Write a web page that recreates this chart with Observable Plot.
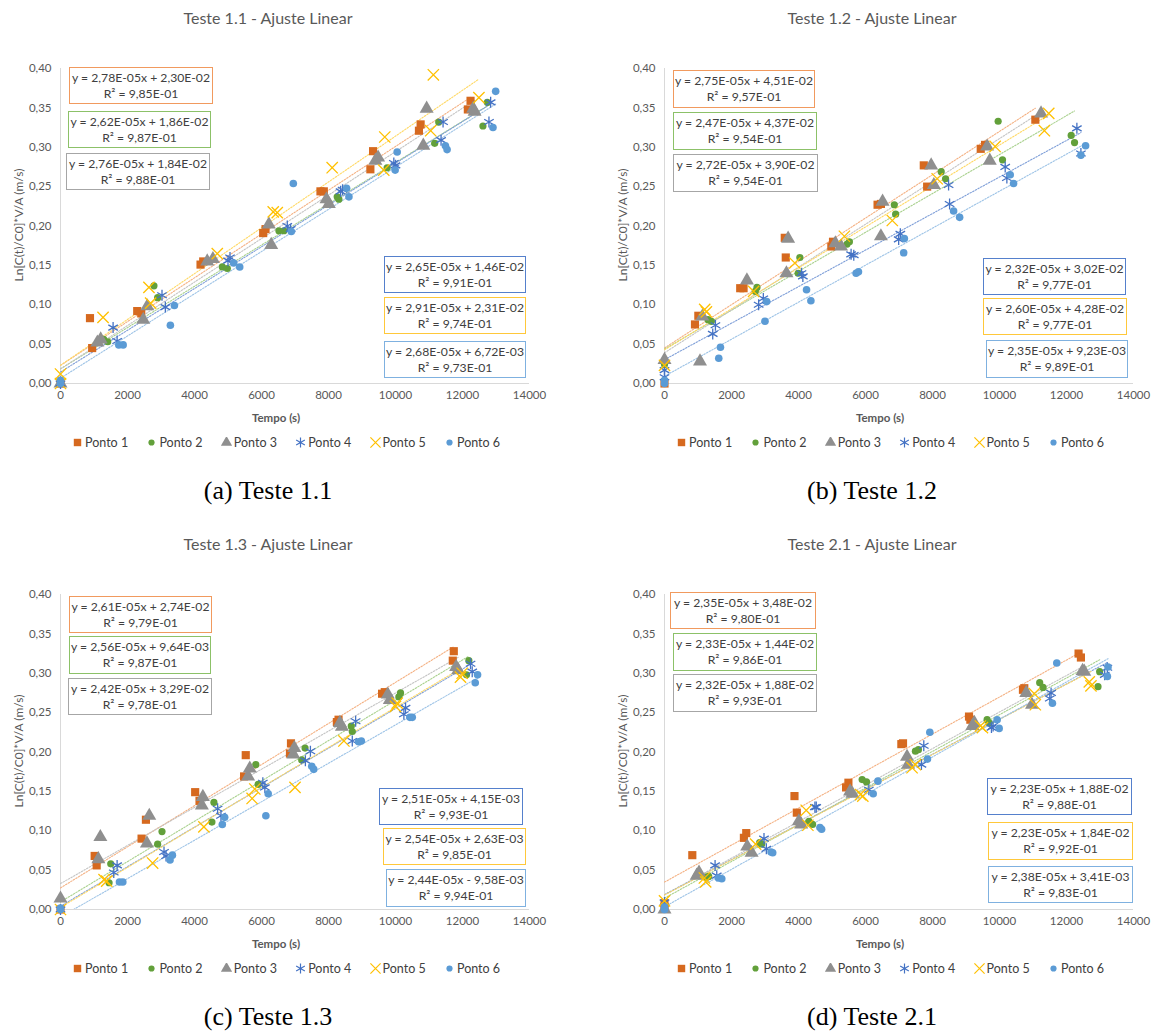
<!DOCTYPE html>
<html><head><meta charset="utf-8">
<script src="https://cdn.jsdelivr.net/npm/d3@7"></script>
<script src="https://cdn.jsdelivr.net/npm/@observablehq/plot@0.6"></script>
<style>
body{margin:0;background:#fff;}
#root{position:relative;width:1155px;height:1035px;font-family:Lato,"Open Sans",sans-serif;overflow:hidden;}
.abs{position:absolute;}
.title{font-size:16px;color:#595959;text-align:center;width:300px;white-space:nowrap;}
.ylab{font-size:12px;color:#595959;white-space:nowrap;width:240px;text-align:center;transform:rotate(-90deg);line-height:16px;}
.xlab{font-size:11.5px;color:#595959;font-weight:bold;width:120px;text-align:center;}
.box{position:absolute;background:#fff;box-sizing:border-box;border:1.4px solid;font-size:12.2px;color:#404040;text-align:center;display:flex;flex-direction:column;justify-content:center;line-height:16px;white-space:nowrap;}
.caption{font-family:"Liberation Serif","Times New Roman",serif;font-size:26px;color:#000;text-align:center;width:300px;}
.legend{display:flex;font-size:12.5px;color:#404040;align-items:center;}
.legend .item{width:74.4px;display:flex;align-items:center;white-space:nowrap;}
.legend svg{margin-right:2px;}
</style>
</head><body><div id="root"></div>
<script>
// ---------- Data (time s, Ln[C(t)/C0]*V/A m/s) ----------
const seriesNames = ["Ponto 1","Ponto 2","Ponto 3","Ponto 4","Ponto 5","Ponto 6"];
const titles = ["Teste 1.1 - Ajuste Linear","Teste 1.2 - Ajuste Linear","Teste 1.3 - Ajuste Linear","Teste 2.1 - Ajuste Linear"];
const captions = ["(a) Teste 1.1","(b) Teste 1.2","(c) Teste 1.3","(d) Teste 2.1"];
const xTicks = [0,2000,4000,6000,8000,10000,12000,14000];
const yTicks = [0,0.05,0.10,0.15,0.20,0.25,0.30,0.35,0.40];

// Teste 1.1
const t11_p1 = [[0,0],[880,0.083],[945,0.045],[2290,0.092],[2410,0.089],[4180,0.151],[4260,0.155],[6050,0.191],[6120,0.196],[7760,0.244],[7860,0.244],[9250,0.272],[9330,0.295],[10700,0.321],[10750,0.329],[12160,0.348],[12240,0.359]];
const t11_p2 = [[0,0],[1290,0.056],[1410,0.053],[2790,0.124],[2900,0.109],[4830,0.148],[4980,0.146],[6520,0.194],[6670,0.194],[8260,0.237],[8310,0.234],[9750,0.274],[11170,0.305],[11290,0.332],[12610,0.327],[12740,0.357]];
const t11_p3 = [[0,0],[1100,0.052],[1200,0.056],[2470,0.081],[2590,0.098],[4380,0.155],[4550,0.158],[6220,0.202],[6290,0.176],[7940,0.234],[8010,0.228],[9400,0.283],[9480,0.287],[10830,0.302],[10930,0.349],[12320,0.349],[12360,0.345]];
const t11_p4 = [[0,0],[1570,0.071],[1690,0.054],[3030,0.112],[3130,0.097],[5000,0.156],[5060,0.160],[6770,0.200],[6870,0.196],[8360,0.244],[8420,0.246],[9950,0.280],[10000,0.277],[11360,0.309],[11420,0.332],[12790,0.332],[12840,0.357]];
const t11_p5 = [[0,0],[0,0.012],[1270,0.084],[2640,0.122],[2690,0.102],[4680,0.165],[6350,0.218],[6470,0.217],[8110,0.274],[9650,0.271],[9680,0.313],[11050,0.321],[11130,0.392],[12490,0.363]];
const t11_p6 = [[0,0],[0,0.004],[1740,0.049],[1870,0.049],[3280,0.074],[3400,0.099],[5170,0.153],[5350,0.148],[6890,0.193],[6950,0.254],[8540,0.248],[8610,0.237],[9990,0.271],[10050,0.294],[11490,0.302],[11540,0.297],[12910,0.325],[12990,0.371]];
const t11_slope = [2.78e-5,2.62e-5,2.76e-5,2.65e-5,2.91e-5,2.68e-5];
const t11_icpt = [2.30e-2,1.86e-2,1.84e-2,1.46e-2,2.31e-2,6.72e-3];
const t11_r2 = [9.85e-1,9.87e-1,9.88e-1,9.91e-1,9.74e-1,9.73e-1];

// Teste 1.2
const t12_p1 = [[0,0],[910,0.075],[1010,0.086],[2260,0.121],[2360,0.121],[3590,0.185],[3620,0.160],[4980,0.174],[5030,0.180],[6360,0.227],[6460,0.228],[7740,0.277],[7840,0.250],[9440,0.298],[9570,0.303],[11070,0.335]];
const t12_p2 = [[0,0.024],[1300,0.081],[1400,0.079],[2710,0.117],[2760,0.122],[3990,0.140],[4040,0.160],[5450,0.177],[5520,0.180],[6860,0.227],[6900,0.215],[8260,0.269],[8390,0.260],[9960,0.333],[10090,0.284],[12140,0.315],[12240,0.306]];
const t12_p3 = [[0,0.030],[1060,0.028],[1130,0.085],[2460,0.131],[3640,0.140],[3690,0.184],[5100,0.178],[5270,0.174],[6460,0.187],[6510,0.231],[7960,0.277],[8040,0.252],[9630,0.301],[9710,0.283],[11240,0.343]];
const t12_p4 = [[0,0.008],[0,0.017],[1440,0.063],[1520,0.074],[2810,0.100],[2950,0.108],[4090,0.140],[4130,0.136],[5570,0.164],[5650,0.163],[6990,0.183],[7040,0.190],[8480,0.252],[8510,0.228],[10170,0.275],[10220,0.261],[12310,0.324],[12430,0.292]];
const t12_p5 = [[0,0.023],[1200,0.094],[1250,0.091],[2660,0.117],[3890,0.153],[5370,0.187],[6800,0.207],[8140,0.260],[9870,0.301],[11340,0.321],[11470,0.343]];
const t12_p6 = [[0,0],[0,0.004],[1620,0.032],[1670,0.046],[3000,0.079],[3050,0.104],[4240,0.119],[4370,0.105],[5720,0.140],[5790,0.142],[7140,0.166],[7160,0.184],[8630,0.219],[8810,0.211],[10320,0.265],[10420,0.254],[12430,0.290],[12570,0.302]];
const t12_slope = [2.75e-5,2.47e-5,2.72e-5,2.32e-5,2.60e-5,2.35e-5];
const t12_icpt = [4.51e-2,4.37e-2,3.90e-2,3.02e-2,4.28e-2,9.23e-3];
const t12_r2 = [9.57e-1,9.54e-1,9.54e-1,9.77e-1,9.77e-1,9.89e-1];

// Teste 1.3
const t13_p1 = [[0,0],[1020,0.068],[1080,0.056],[2420,0.090],[2550,0.114],[4020,0.149],[4150,0.138],[5480,0.169],[5530,0.196],[6850,0.198],[6880,0.211],[8250,0.238],[8300,0.241],[9600,0.274],[9680,0.276],[11710,0.316],[11740,0.328]];
const t13_p2 = [[0,0],[1450,0.034],[1500,0.058],[2900,0.083],[3030,0.099],[4520,0.111],[4580,0.136],[5830,0.184],[5900,0.159],[7200,0.190],[7300,0.205],[8680,0.233],[8710,0.226],[10100,0.270],[10150,0.275],[12120,0.298],[12190,0.316]];
const t13_p3 = [[0,0.014],[1130,0.064],[1190,0.092],[2580,0.084],[2650,0.119],[4220,0.132],[4250,0.143],[5600,0.169],[5650,0.179],[6950,0.197],[6980,0.205],[8340,0.237],[8400,0.232],[9770,0.273],[9830,0.266],[11810,0.308],[11870,0.304]];
const t13_p4 = [[0,0],[1590,0.047],[1690,0.056],[3090,0.073],[3150,0.068],[4690,0.128],[4790,0.119],[6040,0.161],[6100,0.155],[7310,0.189],[7460,0.201],[8710,0.214],[8810,0.239],[10250,0.248],[10300,0.256],[12240,0.312],[12290,0.302]];
const t13_p5 = [[0,0],[1300,0.038],[1380,0.036],[2750,0.059],[4280,0.105],[5720,0.141],[5800,0.153],[7000,0.155],[8460,0.214],[10000,0.258],[10050,0.262],[11940,0.295],[11990,0.300]];
const t13_p6 = [[0,0],[0,0.002],[1760,0.035],[1860,0.035],[3270,0.063],[3340,0.069],[4830,0.108],[4900,0.117],[6130,0.119],[6200,0.147],[7500,0.182],[7560,0.178],[8900,0.213],[8980,0.214],[10430,0.244],[10500,0.244],[12380,0.288],[12450,0.298]];
const t13_slope = [2.61e-5,2.56e-5,2.42e-5,2.51e-5,2.54e-5,2.44e-5];
const t13_icpt = [2.74e-2,9.64e-3,3.29e-2,4.15e-3,2.63e-3,-9.58e-3];
const t13_r2 = [9.79e-1,9.87e-1,9.78e-1,9.93e-1,9.85e-1,9.94e-1];

// Teste 2.1
const t21_p1 = [[0,0.003],[0,0.008],[830,0.069],[2370,0.091],[2440,0.097],[3880,0.144],[3950,0.123],[5420,0.155],[5490,0.161],[7070,0.210],[7120,0.211],[9090,0.245],[9130,0.241],[10700,0.279],[10740,0.281],[12360,0.325],[12430,0.320]];
const t21_p2 = [[0,0],[1260,0.041],[1320,0.042],[2840,0.085],[2900,0.083],[4310,0.112],[4420,0.108],[5900,0.165],[6030,0.162],[7490,0.201],[7580,0.203],[9630,0.241],[9690,0.237],[11200,0.288],[11300,0.282],[12940,0.283],[12990,0.302]];
const t21_p3 = [[0,0],[960,0.043],[1030,0.047],[2470,0.080],[2600,0.072],[4010,0.112],[4080,0.108],[5540,0.150],[5610,0.147],[7240,0.194],[7270,0.184],[9190,0.233],[9250,0.237],[10800,0.275],[10970,0.260],[12480,0.303],[12530,0.302]];
const t21_p4 = [[0,0.009],[1510,0.056],[1560,0.043],[2970,0.090],[3040,0.077],[4490,0.130],[4530,0.130],[6100,0.152],[7670,0.184],[7740,0.208],[9760,0.231],[9810,0.233],[11500,0.268],[11540,0.275],[13140,0.298],[13220,0.307]];
const t21_p5 = [[0,0.011],[1190,0.040],[1230,0.035],[2720,0.083],[4230,0.126],[4280,0.107],[5850,0.146],[5920,0.144],[7390,0.180],[7490,0.184],[9430,0.233],[9490,0.231],[11040,0.274],[11070,0.260],[12680,0.289],[12730,0.284]];
const t21_p6 = [[0,0],[0,0.003],[1610,0.040],[1710,0.039],[3180,0.073],[3230,0.072],[4640,0.104],[4690,0.102],[6230,0.147],[6370,0.163],[7850,0.191],[7920,0.225],[9930,0.241],[9990,0.230],[11580,0.262],[11710,0.313],[13220,0.296],[13240,0.308]];
const t21_slope = [2.35e-5,2.33e-5,2.32e-5,2.23e-5,2.23e-5,2.38e-5];
const t21_icpt = [3.48e-2,1.44e-2,1.88e-2,1.88e-2,1.84e-2,3.41e-3];
const t21_r2 = [9.80e-1,9.86e-1,9.93e-1,9.88e-1,9.92e-1,9.83e-1];

// ---------- Styles ----------
const markerColor = ["#D6691F","#62A03A","#8F8F8F","#4472C4","#FFC000","#5B9BD5"];
const lineColor = ["#F4B183","#A9D18E","#C4C4C4","#7F9FD8","#FFD966","#9DC3E6"];
const boxColor = ["#F19A5E","#8CC168","#A6A6A6","#5580CC","#FFC83A","#7FB1E0"];
const symbols = ["square","circle","triangle","asterisk","times","circle"];
const d3sym = [d3.symbolSquare,d3.symbolCircle,d3.symbolTriangle,d3.symbolAsterisk,d3.symbolTimes,d3.symbolCircle];
const radius = [4.6,3.6,5.2,5.2,5.2,3.8];
const filled = [true,true,true,false,false,true];

const panels = [
  {series:[t11_p1,t11_p2,t11_p3,t11_p4,t11_p5,t11_p6], slope:t11_slope, icpt:t11_icpt, r2:t11_r2, dx:0, dy:0,
   boxes:[[69,67,144,37],[68,111,143,37],[66,153,144,37],[384,256,142,37],[384,297,142,37],[384,341,142,37]]},
  {series:[t12_p1,t12_p2,t12_p3,t12_p4,t12_p5,t12_p6], slope:t12_slope, icpt:t12_icpt, r2:t12_r2, dx:604, dy:0,
   boxes:[[673,70,142,38],[673,112,144,38],[673,154,145,38],[983,258,143,37],[983,298,144,37],[986,340,142,38]]},
  {series:[t13_p1,t13_p2,t13_p3,t13_p4,t13_p5,t13_p6], slope:t13_slope, icpt:t13_icpt, r2:t13_r2, dx:0, dy:526,
   boxes:[[69,596,143,37],[69,636,142,38],[68,678,144,37],[379,788,144,37],[383,828,143,37],[386,869,140,38]]},
  {series:[t21_p1,t21_p2,t21_p3,t21_p4,t21_p5,t21_p6], slope:t21_slope, icpt:t21_icpt, r2:t21_r2, dx:604, dy:526,
   boxes:[[670,592,146,37],[673,633,144,38],[673,674,144,38],[987,778,145,37],[988,822,145,38],[988,866,145,37]]}
];

function sci(v){
  const s = Math.abs(v).toExponential(2);
  const [m,e] = s.split("e");
  const ei = parseInt(e);
  return m.replace(".",",") + "E" + (ei<0?"-":"+") + String(Math.abs(ei)).padStart(2,"0");
}

const root = document.getElementById("root");
function addDiv(cls, text, left, top, extra){
  const d = document.createElement("div");
  d.className = "abs " + cls;
  d.textContent = text;
  d.style.left = left + "px"; d.style.top = top + "px";
  if (extra) Object.assign(d.style, extra);
  root.appendChild(d);
  return d;
}

panels.forEach((p, pi) => {
  const {dx, dy} = p;
  addDiv("title", titles[pi], dx + 268 - 150, dy + 8);
  // trendlines from the fitted equations over each series' time range
  const lines = p.series.map((s, i) => {
    const x0 = d3.min(s, d => d[0]), x1 = d3.max(s, d => d[0]);
    return [x0, x1].map(x => ({x, y: p.slope[i] * x + p.icpt[i], k: i}));
  });
  const marks = [
    Plot.ruleY([0], {stroke: "#D9D9D9", strokeWidth: 1}),
    Plot.ruleX([0], {stroke: "#D9D9D9", strokeWidth: 1}),
    ...lines.map((l, i) => Plot.line(l, {x: "x", y: "y", stroke: lineColor[i], strokeWidth: 1.1, strokeDasharray: "1.5,1.5", clip: true})),
    ...p.series.map((s, i) => Plot.dot(s, {
      x: d => d[0], y: d => d[1], symbol: symbols[i], r: radius[i],
      fill: filled[i] ? markerColor[i] : "none",
      stroke: filled[i] ? "none" : markerColor[i],
      strokeWidth: filled[i] ? 0 : 1.3
    })),
    Plot.axisX({ticks: xTicks, tickSize: 0, tickPadding: 7, label: null, tickFormat: d => String(d)}),
    Plot.axisY({ticks: yTicks, tickSize: 0, tickPadding: 9, label: null, tickFormat: d => d.toFixed(2).replace(".", ",")})
  ];
  const chart = Plot.plot({
    width: 577, height: 375,
    marginLeft: 60, marginRight: 48, marginTop: 13, marginBottom: 47,
    x: {domain: [0, 14000]},
    y: {domain: [0, 0.40]},
    style: {fontFamily: "Lato, 'Open Sans', sans-serif", fontSize: "11.5px", color: "#595959", background: "transparent", overflow: "visible"},
    marks
  });
  chart.style.maxWidth = "none";
  const holder = document.createElement("div");
  holder.className = "abs";
  holder.style.left = dx + "px"; holder.style.top = (dy + 55) + "px";
  holder.style.width = "577px"; holder.style.height = "375px";
  holder.appendChild(chart);
  root.appendChild(holder);

  addDiv("ylab", "Ln[C(t)/C0]*V/A  (m/s)", dx + 19 - 120, dy + 225 - 8);
  addDiv("xlab", "Tempo  (s)", dx + 276 - 60, dy + 411);

  p.boxes.forEach((b, i) => {
    const d = document.createElement("div");
    d.className = "box";
    d.style.left = b[0] + "px"; d.style.top = b[1] + "px";
    d.style.width = b[2] + "px"; d.style.height = b[3] + "px";
    d.style.borderColor = boxColor[i];
    const eq = "y = " + sci(p.slope[i]) + "x " + (p.icpt[i] < 0 ? "- " : "+ ") + sci(p.icpt[i]);
    const l1 = document.createElement("div"); l1.textContent = eq;
    const l2 = document.createElement("div"); l2.textContent = "R² = " + sci(p.r2[i]);
    d.appendChild(l1); d.appendChild(l2);
    root.appendChild(d);
  });

  const lg = document.createElement("div");
  lg.className = "abs legend";
  lg.style.left = (dx + 72) + "px"; lg.style.top = (dy + 435) + "px";
  seriesNames.forEach((name, i) => {
    const it = document.createElement("div"); it.className = "item";
    const svg = d3.create("svg").attr("width", 11).attr("height", 11);
    const size = [55, 30, 55, 70, 70, 30][i];
    svg.append("path").attr("transform", "translate(5.5,5.5)")
      .attr("d", d3.symbol(d3sym[i], size)())
      .attr("fill", filled[i] ? markerColor[i] : "none")
      .attr("stroke", filled[i] ? "none" : markerColor[i])
      .attr("stroke-width", 1.2);
    it.appendChild(svg.node());
    const t = document.createElement("span"); t.textContent = name;
    it.appendChild(t);
    lg.appendChild(it);
  });
  root.appendChild(lg);

  addDiv("caption", captions[pi], dx + 268 - 150, dy + 476);
});
</script>
</body></html>
